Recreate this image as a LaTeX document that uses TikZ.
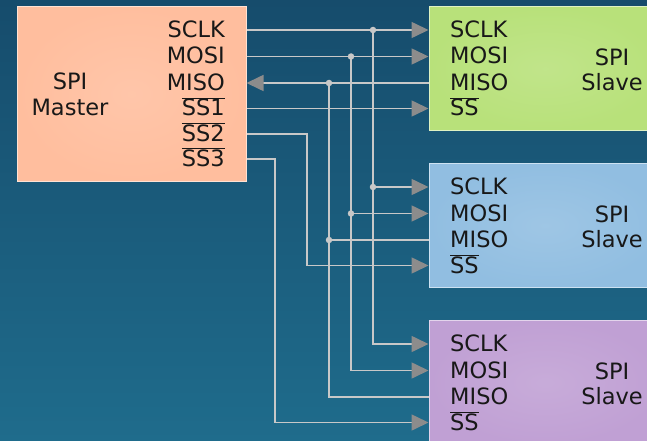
\documentclass[tikz,border=0pt]{standalone}
\usepackage{fontspec}
\setmainfont{DejaVu Sans}
\usetikzlibrary{arrows.meta, positioning, calc}
\definecolor{bgtop}{RGB}{22, 76, 108}
\definecolor{bgbottom}{RGB}{31, 108, 140}
\definecolor{masterpeach}{RGB}{255, 190, 158}
\definecolor{slavegreen}{RGB}{184, 225, 122}
\definecolor{slaveblue}{RGB}{145, 190, 225}
\definecolor{slavepurple}{RGB}{192, 160, 212}
\definecolor{wiregray}{RGB}{200, 200, 200}
\definecolor{tipgray}{RGB}{140, 140, 140}
\definecolor{inkdark}{RGB}{24, 24, 24}

\begin{document}
\begin{tikzpicture}[x=1pt, y=-1pt,
  font=\fontsize{22.5}{25.5}\selectfont,
  box/.style={draw=white!55!#1, line width=1pt, inner color=white!12!#1, outer color=#1, inner sep=0pt},
  pin/.style={inner sep=0pt, text height=15pt, text depth=0pt, text=inkdark},
  wire/.style={wiregray, line width=1.6pt},
  sig/.style={wire, -{Triangle[length=17pt, width=16pt, fill=tipgray, color=tipgray]}},
  dot/.style={circle, fill=wiregray, inner sep=0pt, minimum size=6.5pt}]
\useasboundingbox (0,0) rectangle (647,441);
\shade[top color=bgtop, bottom color=bgbottom] (0,0) rectangle (647,441);

% master
\node[box=masterpeach, minimum width=229pt, minimum height=174pt] (master) at (131.5,94) {};
\node[align=center, text=inkdark] (mlabel) at (70,94.5) {SPI\\Master};
\node[pin, anchor=east] (msclk) at (225,30) {SCLK};
\node[pin, anchor=east] (mmosi) at (225,56.5) {MOSI};
\node[pin, anchor=east] (mmiso) at (225,83) {MISO};
\node[pin, anchor=east] (mss1) at (225,108.5) {$\overline{\mbox{SS1}}$};
\node[pin, anchor=east] (mss2) at (225,134) {$\overline{\mbox{SS2}}$};
\node[pin, anchor=east] (mss3) at (225,159) {$\overline{\mbox{SS3}}$};

% slaves
\foreach \s/\c/\o in {A/slavegreen/0, B/slaveblue/157, C/slavepurple/314} {
  \node[box=\c, minimum width=232pt, minimum height=124pt] (slave\s) at (545,68.5+\o) {};
  \node[align=center, text=inkdark] (slabel\s) at (612,70+\o) {SPI\\Slave};
  \node[pin, anchor=west] (sclk\s) at (450,30+\o) {SCLK};
  \node[pin, anchor=west] (mosi\s) at (450,56.5+\o) {MOSI};
  \node[pin, anchor=west] (miso\s) at (450,83+\o) {MISO};
  \node[pin, anchor=west] (ss\s) at (450,108.5+\o) {$\overline{\mbox{SS}}$};
}

\coordinate (clkbus) at (373,0);
\coordinate (mosibus) at (351,0);
\coordinate (misobus) at (329,0);
\coordinate (ss2bus) at (307,0);
\coordinate (ss3bus) at (275,0);

% SCLK
\draw[sig] (master.east |- msclk) -- (slaveA.west |- sclkA);
\draw[sig] (clkbus |- sclkB) -- (slaveB.west |- sclkB);
\draw[sig] (clkbus |- sclkA) -- (clkbus |- sclkC) -- (slaveC.west |- sclkC);
% MOSI
\draw[sig] (master.east |- mmosi) -- (slaveA.west |- mosiA);
\draw[sig] (mosibus |- mosiB) -- (slaveB.west |- mosiB);
\draw[sig] (mosibus |- mosiA) -- (mosibus |- mosiC) -- (slaveC.west |- mosiC);
% MISO
\draw[sig] (slaveA.west |- misoA) -- (master.east |- mmiso);
\draw[wire] (misobus |- misoB) -- (slaveB.west |- misoB);
\draw[wire] (misobus |- misoA) -- (misobus |- misoC) -- (slaveC.west |- misoC);
% slave select
\draw[sig] (master.east |- mss1) -- (slaveA.west |- ssA);
\draw[sig] (master.east |- mss2) -| (ss2bus |- ssB) -- (slaveB.west |- ssB);
\draw[sig] (master.east |- mss3) -| (ss3bus |- ssC) -- (slaveC.west |- ssC);

\foreach \b/\p in {clkbus/sclk, mosibus/mosi, misobus/miso} {
  \node[dot] at (\b |- \p A) {};
  \node[dot] at (\b |- \p B) {};
}
\end{tikzpicture}
\end{document}
